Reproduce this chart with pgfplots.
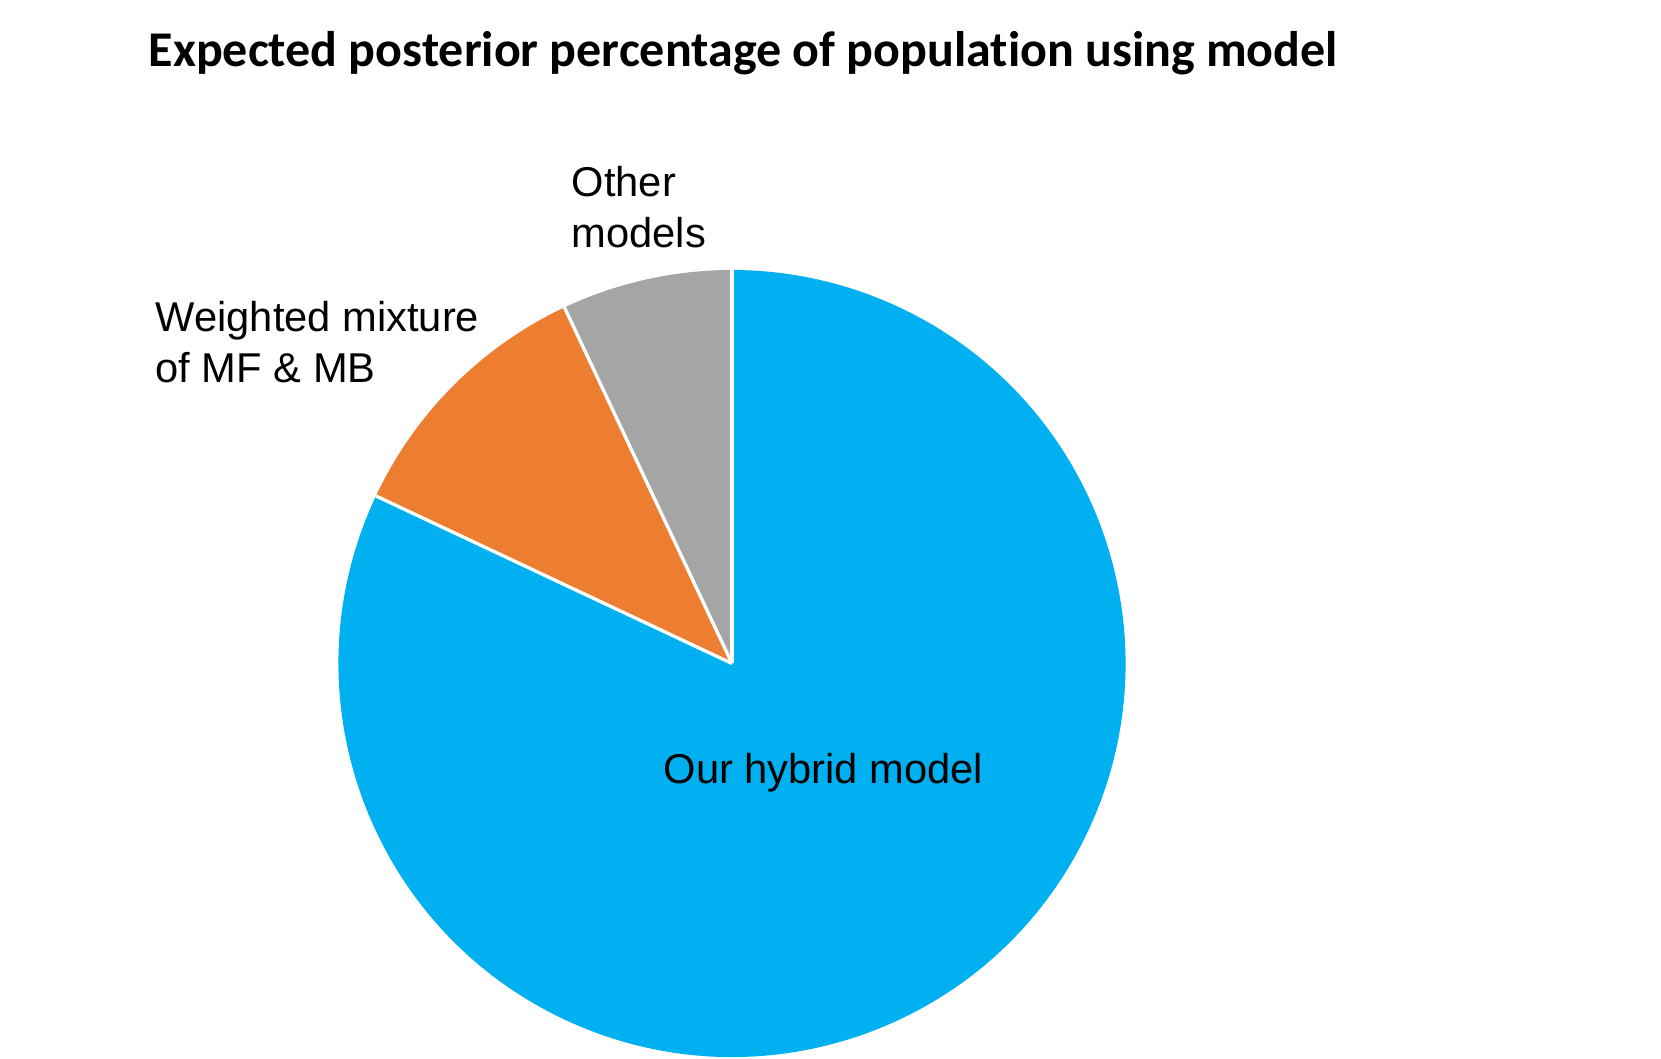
\documentclass[border=0pt]{standalone}
\usepackage{pgfplots}
\pgfplotsset{compat=1.18}
\usepackage{pgfplotstable}
\usepackage{fontspec}
\setmainfont{Liberation Sans}
\newfontfamily\titlefont[Ligatures=NoCommon]{Carlito}
\definecolor{cblue}{HTML}{00B0F0}
\definecolor{corange}{HTML}{ED7D31}
\definecolor{cgray}{HTML}{A5A5A5}
\pgfplotstableread{
label share
Other 7
Weighted 11
Hybrid 82
}\sharetable
\pgfplotstablegetelem{0}{share}\of\sharetable \let\sOther\pgfplotsretval
\pgfplotstablegetelem{1}{share}\of\sharetable \let\sWeighted\pgfplotsretval
\pgfplotstablegetelem{2}{share}\of\sharetable \let\sHybrid\pgfplotsretval
\pgfmathsetmacro{\aA}{90}
\pgfmathsetmacro{\aB}{90+3.6*\sOther}
\pgfmathsetmacro{\aC}{\aB+3.6*\sWeighted}
\pgfmathsetmacro{\aD}{\aC+3.6*\sHybrid}
\def\R{118.05pt}
\begin{document}
\begin{tikzpicture}
\begin{axis}[width=498.3pt,height=317.7pt,scale only axis,hide axis,
  xmin=0,xmax=1661,ymin=0,ymax=1059,y dir=reverse,clip=false]
\fill[cblue] (axis cs:732,663.5) -- ++(\aC:\R) arc[start angle=\aC,end angle=\aD,radius=\R] -- cycle;
\fill[corange] (axis cs:732,663.5) -- ++(\aB:\R) arc[start angle=\aB,end angle=\aC,radius=\R] -- cycle;
\fill[cgray] (axis cs:732,663.5) -- ++(\aA:\R) arc[start angle=\aA,end angle=\aB,radius=\R] -- cycle;
\draw[white,line width=1pt] (axis cs:732,663.5) -- ++(\aA:\R);
\draw[white,line width=1pt] (axis cs:732,663.5) -- ++(\aB:\R);
\draw[white,line width=1pt] (axis cs:732,663.5) -- ++(\aC:\R);
\node[anchor=west,inner sep=0pt] at (axis cs:148,53) {\titlefont\bfseries\fontsize{15}{18}\selectfont Expected posterior percentage of population using model};
\node[anchor=west,align=left,inner sep=0pt,font=\fontsize{12.5}{15.3}\selectfont] at (axis cs:571,207) {Other\\models};
\node[anchor=west,align=left,inner sep=0pt,font=\fontsize{12.5}{15.3}\selectfont] at (axis cs:155,342) {Weighted mixture\\of MF \& MB};
\node[anchor=west,inner sep=0pt,font=\fontsize{12.5}{15.3}\selectfont] at (axis cs:663,773) {Our hybrid model};
\end{axis}
\pgfresetboundingbox
\path (0,0) rectangle (498.3pt,317.7pt);
\end{tikzpicture}
\end{document}
